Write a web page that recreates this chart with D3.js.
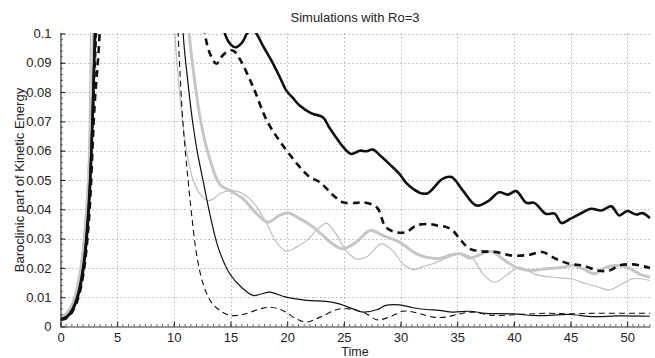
<!DOCTYPE html>
<html>
<head>
<meta charset="utf-8">
<script src="https://cdn.jsdelivr.net/npm/d3@7"></script>
<style>
  html, body { margin: 0; padding: 0; background: #fff; }
  svg { display: block; }
  text { font-family: "Liberation Sans", Arial, Helvetica, sans-serif; fill: #222; }
</style>
</head>
<body>
<svg id="chart" width="655" height="358"></svg>
<script>
// Baroclinic part of kinetic energy versus time, six runs with Ro=3.
// Values above 0.1 leave the visible range and are clipped.

const title = "Simulations with Ro=3";
const xLabel = "Time";
const yLabel = "Baroclinic part of Kinetic Energy";

const xTicks = [0, 5, 10, 15, 20, 25, 30, 35, 40, 45, 50];
const yTicks = [0, 0.01, 0.02, 0.03, 0.04, 0.05, 0.06, 0.07, 0.08, 0.09, 0.1];
const yTickLabels = ["0", "0.01", "0.02", "0.03", "0.04", "0.05", "0.06", "0.07", "0.08", "0.09", "0.1"];

// [time, energy]
const thickBlack = [
  [0, 0.0025], [0.5, 0.003], [1, 0.0052], [1.5, 0.0098], [2, 0.019], [2.5, 0.040], [3.0, 0.092], [3.2, 0.12], [3.5, 0.17],
  [5, 0.35], [11, 0.35], [12.5, 0.2], [13.5, 0.12], [14.5, 0.1], [15.0, 0.0963], [15.46, 0.0953], [16.0, 0.0968],
  [16.46, 0.1], [16.9, 0.1015], [17.28, 0.1], [17.9, 0.0955], [18.6, 0.0908], [19.3, 0.0855], [19.93, 0.0805],
  [20.5, 0.078], [21.1, 0.0754], [22.1, 0.0728], [23.15, 0.0714], [23.7, 0.068], [24.3, 0.0646], [25.0, 0.061],
  [25.65, 0.0589], [26.4, 0.06], [27.0, 0.0598], [27.56, 0.0604], [28.3, 0.058], [29.0, 0.0555], [29.9, 0.0521],
  [30.5, 0.049], [31.1, 0.047], [31.8, 0.0455], [32.4, 0.0455], [32.85, 0.047], [33.7, 0.0504], [34.5, 0.051],
  [35.5, 0.0464], [36.7, 0.0413], [37.8, 0.043], [38.7, 0.0458], [39.45, 0.045], [40.2, 0.0462], [41.1, 0.0422],
  [41.8, 0.0422], [42.8, 0.0385], [43.6, 0.0385], [44.2, 0.0353], [45.0, 0.0368], [46.1, 0.039], [46.8, 0.0402],
  [47.7, 0.0396], [48.6, 0.041], [49.3, 0.0379], [50.0, 0.0394], [50.8, 0.0382], [51.35, 0.0387], [52, 0.037]
];

const thickDashed = [
  [0, 0.0022], [0.5, 0.0028], [1, 0.0048], [1.5, 0.009], [2, 0.0175], [2.5, 0.036], [3.0, 0.075], [3.45, 0.1], [3.8, 0.16],
  [5, 0.35], [10, 0.35], [11.5, 0.18], [12.3, 0.115], [12.73, 0.1], [13.2, 0.093], [13.76, 0.0897], [14.3, 0.0925],
  [14.9, 0.0942], [15.3, 0.094], [15.8, 0.0914], [17.0, 0.0817], [18.2, 0.0703], [19.3, 0.0635], [20.4, 0.0578],
  [21.1, 0.0545], [22.0, 0.051], [22.9, 0.0492], [24.0, 0.045], [24.9, 0.0424], [26.1, 0.0422], [26.7, 0.0424],
  [27.9, 0.0407], [28.7, 0.0339], [29.6, 0.0322], [30.5, 0.0322], [31.4, 0.0345], [32.5, 0.035], [33.2, 0.0345],
  [34.0, 0.034], [34.6, 0.0328], [35.2, 0.030], [36.1, 0.0265], [37.0, 0.0257], [38.4, 0.0254], [39.9, 0.0242],
  [41.4, 0.0245], [42.5, 0.0254], [43.7, 0.0231], [44.9, 0.0214], [46.1, 0.0208], [47.4, 0.0191], [48.4, 0.0191],
  [49.3, 0.0208], [50.5, 0.0212], [52, 0.020]
];

const thickGray = [
  [0, 0.0033], [0.5, 0.0043], [1, 0.0072], [1.5, 0.0135], [2, 0.026], [2.5, 0.052], [2.8, 0.085], [3.0, 0.115], [3.3, 0.17],
  [5, 0.35], [9.5, 0.35], [10.6, 0.17], [11.0, 0.12], [11.35, 0.1], [11.9, 0.082], [12.44, 0.0686], [13.17, 0.0572],
  [14.05, 0.0485], [14.93, 0.0464], [16.1, 0.0436], [17.3, 0.0385], [18.3, 0.0356], [19.3, 0.0379], [20.1, 0.0387],
  [21.1, 0.0368], [22.1, 0.0345], [23.0, 0.0316], [24.0, 0.0282], [24.9, 0.0265], [26.1, 0.0288], [27.3, 0.0328],
  [28.4, 0.0311], [29.9, 0.0288], [31.4, 0.0248], [32.5, 0.0235], [33.5, 0.0233], [34.5, 0.0245], [35.3, 0.0248],
  [36.1, 0.0233], [37.0, 0.0245], [38.0, 0.0257], [39.0, 0.0231], [40.2, 0.0202], [41.4, 0.0191], [42.8, 0.0197],
  [44.3, 0.0202], [45.2, 0.0208], [46.1, 0.0197], [47.1, 0.018], [48.1, 0.0202], [49.0, 0.0208], [49.9, 0.0204],
  [51.05, 0.018], [52, 0.0168]
];

const thinGray = [
  [0, 0.0035], [0.5, 0.0046], [1, 0.0078], [1.5, 0.0145], [2, 0.028], [2.4, 0.05], [2.66, 0.1], [2.9, 0.16],
  [4.5, 0.35], [9, 0.35], [9.7, 0.14], [10.09, 0.1], [10.5, 0.08], [10.82, 0.0686], [11.26, 0.057], [11.7, 0.05],
  [12.2, 0.0458], [13.0, 0.043], [13.5, 0.0436], [14.05, 0.0453], [14.9, 0.0464], [15.5, 0.0462], [16.1, 0.0453],
  [17.1, 0.0419], [18.2, 0.035], [19.05, 0.0288], [19.9, 0.0257], [20.8, 0.0271], [21.7, 0.0293], [22.6, 0.0328],
  [23.45, 0.0353], [24.3, 0.0316], [25.2, 0.0259], [26.1, 0.0231], [27.0, 0.0237], [28.3, 0.0282], [29.3, 0.0259],
  [30.2, 0.0214], [31.1, 0.0194], [32.0, 0.0205], [32.85, 0.0214], [34.6, 0.0242], [35.5, 0.0248], [36.4, 0.0231],
  [37.25, 0.018], [38.3, 0.0151], [39.3, 0.0174], [40.5, 0.0202], [41.95, 0.0177], [43.4, 0.0168], [45.0, 0.0163],
  [46.4, 0.0146], [47.5, 0.0134], [48.4, 0.0125], [49.3, 0.014], [50.5, 0.0163], [52, 0.0157]
];

const thinBlack = [
  [0, 0.0027], [0.5, 0.0035], [1, 0.006], [1.5, 0.0112], [2, 0.022], [2.5, 0.046], [2.98, 0.1], [3.3, 0.16],
  [5, 0.35], [9.8, 0.35], [10.45, 0.14], [10.82, 0.1], [11.25, 0.083], [11.7, 0.0686], [12.1, 0.059], [12.58, 0.0498],
  [13.17, 0.0385], [13.9, 0.0271], [14.93, 0.018], [15.96, 0.0134], [17.0, 0.0106], [17.7, 0.0111], [18.46, 0.0117],
  [19.9, 0.01], [21.7, 0.0089], [23.45, 0.0086], [24.6, 0.0077], [25.8, 0.006], [26.7, 0.0049], [27.9, 0.0057],
  [28.7, 0.0072], [29.9, 0.0074], [31.1, 0.0064], [32.3, 0.0058], [33.4, 0.0055], [34.6, 0.0049], [36.1, 0.0052],
  [37.5, 0.0045], [39.9, 0.0043], [42.2, 0.0037], [44.9, 0.0041], [46.9, 0.0034], [49.3, 0.0036], [52, 0.0035]
];

const thinDashed = [
  [0, 0.0025], [0.5, 0.0031], [1, 0.0054], [1.5, 0.0102], [2, 0.02], [2.5, 0.042], [3.19, 0.1], [3.5, 0.16],
  [5, 0.35], [9.5, 0.35], [10.05, 0.14], [10.38, 0.1], [10.82, 0.0686], [11.26, 0.0498], [11.56, 0.0385],
  [12.0, 0.0248], [12.58, 0.0146], [13.3, 0.0083], [14.05, 0.0055], [14.93, 0.0038], [16.1, 0.0041], [17.6, 0.006],
  [18.46, 0.0066], [19.6, 0.0055], [20.8, 0.0026], [21.7, 0.0015], [22.9, 0.0032], [24.6, 0.006], [25.8, 0.0058],
  [27.0, 0.0043], [27.9, 0.0023], [29.0, 0.0032], [30.2, 0.0052], [31.4, 0.0047], [32.85, 0.0032], [34.0, 0.0032],
  [35.2, 0.0043], [36.4, 0.0049], [38.1, 0.0038], [40.5, 0.0041], [42.8, 0.0045], [44.9, 0.0043], [46.9, 0.0045],
  [49.3, 0.0045], [52, 0.0045]
];

const series = [
  { data: thinGray,    color: "#bebebe", width: 1.2, dash: null },
  { data: thickGray,   color: "#c6c6c6", width: 3.0, dash: null },
  { data: thinDashed,  color: "#111",    width: 1.1, dash: "6,4" },
  { data: thinBlack,   color: "#111",    width: 1.2, dash: null },
  { data: thickDashed, color: "#111",    width: 2.6, dash: "7,5" },
  { data: thickBlack,  color: "#111",    width: 2.6, dash: null }
];

const svg = d3.select("#chart");
const plotLeft = 60.5, plotRight = 649.9, plotTop = 33.5, plotBottom = 326.5;

const x = d3.scaleLinear().domain([0, 52]).range([plotLeft, plotRight]);
const y = d3.scaleLinear().domain([0, 0.1]).range([plotBottom, plotTop]);

svg.append("defs").append("clipPath").attr("id", "plot-clip")
  .append("rect")
  .attr("x", plotLeft).attr("y", plotTop - 0.5)
  .attr("width", plotRight - plotLeft + 2).attr("height", plotBottom - plotTop + 1);

// dotted grid
const grid = svg.append("g");
grid.selectAll("line.gx").data(xTicks.filter(d => d > 0)).join("line")
  .attr("x1", d => Math.round(x(d)) + 0.5).attr("x2", d => Math.round(x(d)) + 0.5)
  .attr("y1", plotTop).attr("y2", plotBottom)
  .attr("stroke", "#8a8a8a").attr("stroke-width", 1).attr("stroke-dasharray", "1,3");
grid.selectAll("line.gy").data(yTicks.filter(d => d > 0)).join("line")
  .attr("x1", plotLeft).attr("x2", plotRight)
  .attr("y1", d => Math.round(y(d)) + 0.5).attr("y2", d => Math.round(y(d)) + 0.5)
  .attr("stroke", "#8a8a8a").attr("stroke-width", 1).attr("stroke-dasharray", "1,3");

// curves
const line = d3.line()
  .x(d => x(d[0]))
  .y(d => y(d[1]))
  .curve(d3.curveCatmullRom.alpha(0.5));

const curves = svg.append("g").attr("clip-path", "url(#plot-clip)");
curves.selectAll("path").data(series).join("path")
  .attr("d", d => line(d.data))
  .attr("fill", "none")
  .attr("stroke", d => d.color)
  .attr("stroke-width", d => d.width)
  .attr("stroke-dasharray", d => d.dash)
  .attr("stroke-linejoin", "round");

// axes with inward ticks
const xAxis = d3.axisBottom(x).tickValues(xTicks).tickSizeInner(-5).tickSizeOuter(0).tickPadding(6)
  .tickFormat(d3.format("d"));
const yAxis = d3.axisLeft(y).tickValues(yTicks).tickSizeInner(-5).tickSizeOuter(0).tickPadding(9)
  .tickFormat((d, i) => yTickLabels[i]);

const gx = svg.append("g").attr("transform", `translate(0,${plotBottom})`).call(xAxis);
const gy = svg.append("g").attr("transform", `translate(${plotLeft},0)`).call(yAxis);

// minor ticks
const xMinor = d3.range(0, 52.01, 0.5);
const yMinor = d3.range(0, 0.1001, 0.002);
gx.append("g").selectAll("line").data(xMinor).join("line")
  .attr("x1", d => x(d)).attr("x2", d => x(d)).attr("y1", 0).attr("y2", -2.5)
  .attr("stroke", "#444").attr("stroke-width", 0.8);
gy.append("g").selectAll("line").data(yMinor).join("line")
  .attr("y1", d => y(d)).attr("y2", d => y(d)).attr("x1", 0).attr("x2", 2.5)
  .attr("stroke", "#444").attr("stroke-width", 0.8);

[gx, gy].forEach(g => {
  g.select(".domain").attr("stroke", "#333").attr("stroke-width", 1.2);
  g.selectAll(".tick line").attr("stroke", "#222");
  g.selectAll(".tick text").attr("font-size", 13)
    .attr("font-family", "'Liberation Sans', Arial, sans-serif").attr("fill", "#222");
});

// titles
svg.append("text")
  .attr("x", 355).attr("y", 22)
  .attr("text-anchor", "middle").attr("font-size", 13)
  .text(title);

svg.append("text")
  .attr("x", 355).attr("y", 355.5)
  .attr("text-anchor", "middle").attr("font-size", 12.5)
  .text(xLabel);

svg.append("text")
  .attr("transform", `translate(24,${(plotTop + plotBottom) / 2}) rotate(-90)`)
  .attr("text-anchor", "middle").attr("font-size", 13)
  .text(yLabel);
</script>
</body>
</html>
